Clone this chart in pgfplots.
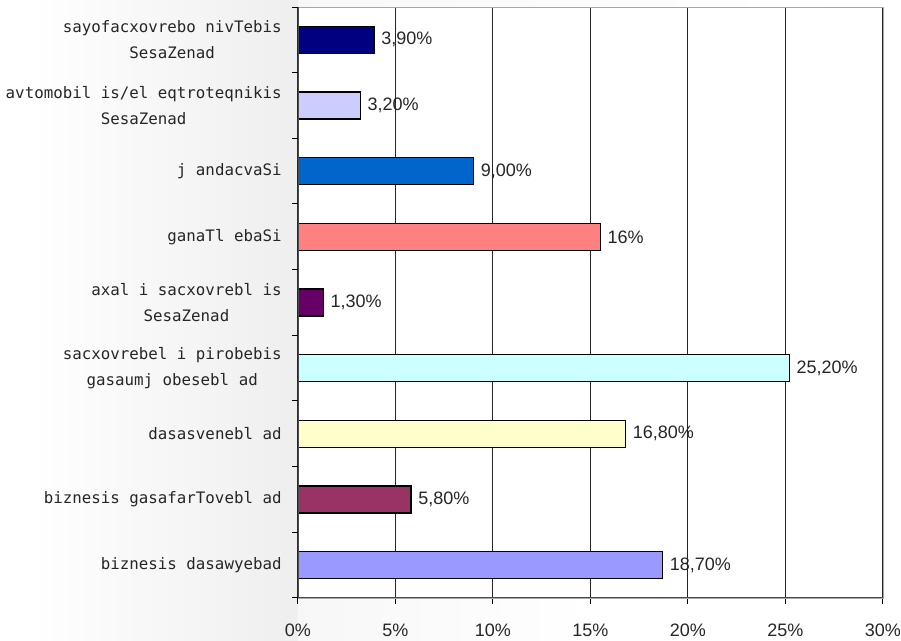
\documentclass[border=0pt]{standalone}
\usepackage{fontspec}
\setmainfont{Liberation Sans}
\newfontfamily\labfont{DejaVu Sans Mono}
\usepackage{pgfplots}
\pgfplotsset{compat=1.18}
\definecolor{cA}{HTML}{000080}
\definecolor{cB}{HTML}{CCCCFF}
\definecolor{cC}{HTML}{0066CC}
\definecolor{cD}{HTML}{FF8080}
\definecolor{cE}{HTML}{660066}
\definecolor{cF}{HTML}{CCFFFF}
\definecolor{cG}{HTML}{FFFFCC}
\definecolor{cH}{HTML}{993366}
\definecolor{cI}{HTML}{9999FF}
\begin{document}
\begin{tikzpicture}
\useasboundingbox (-149pt,-21.5pt) rectangle (301.5pt,299pt);
\shade[left color=white, right color=gray!13] (-135pt,-21.5pt) rectangle (0pt,299pt);
\fill[white] (-149pt,-21.5pt) rectangle (-135pt,299pt);
\shade[left color=gray!6, right color=white] (0pt,292.5pt) rectangle (280pt,299pt);
\shade[left color=gray!6, right color=white] (0pt,-21.5pt) rectangle (150pt,0pt);
\begin{axis}[
  at={(0,0)}, anchor=south west,
  scale only axis, width=292.5pt, height=295.5pt,
  axis background/.style={fill=white},
  xmin=0, xmax=30, ymin=0, ymax=9,
  axis line style={gray!70},
  xtick={0,5,...,30},
  xtick pos=bottom, ytick pos=left,
  xticklabels={0\%,5\%,10\%,15\%,20\%,25\%,30\%},
  xticklabel style={font=\fontsize{9}{10}\selectfont, yshift=-6.5pt, text=black!85},
  xmajorgrids,
  major grid style={black!85, line width=0.5pt},
  ytick={0,1,...,9},
  yticklabels={{biznesis dasawyebad},{biznesis gasafarTovebl ad},{dasasvenebl ad},{sacxovrebel i pirobebis\\gasaumj obesebl ad},{axal i sacxovrebl is\\SesaZenad},{ganaTl ebaSi},{j andacvaSi},{avtomobil is/el eqtroteqnikis\\SesaZenad},{sayofacxovrebo nivTebis\\SesaZenad},{}},
  yticklabel style={font=\labfont\fontsize{7.9}{12.8}\selectfont, align=center, inner sep=0pt, anchor=east, xshift=-5pt, yshift=16.42pt, text=black!85},
  tick align=outside,
  major tick length=3pt,
  tick style={black, line width=0.5pt},
  xbar,
  bar width=13.5pt,
  point meta=explicit symbolic,
  nodes near coords,
  nodes near coords style={font=\fontsize{9}{10}\selectfont, anchor=west, text=black!85},
]
\addplot[fill=cI, draw=black, line width=0.6pt, bar shift=0pt] coordinates {(18.7,0.5) [18,70\%]};
\addplot[fill=cH, draw=black, line width=0.6pt, bar shift=0pt] coordinates {(5.8,1.5) [5,80\%]};
\addplot[fill=cG, draw=black, line width=0.6pt, bar shift=0pt] coordinates {(16.8,2.5) [16,80\%]};
\addplot[fill=cF, draw=black, line width=0.6pt, bar shift=0pt] coordinates {(25.2,3.5) [25,20\%]};
\addplot[fill=cE, draw=black, line width=0.6pt, bar shift=0pt] coordinates {(1.3,4.5) [1,30\%]};
\addplot[fill=cD, draw=black, line width=0.6pt, bar shift=0pt] coordinates {(15.5,5.5) [16\%]};
\addplot[fill=cC, draw=black, line width=0.6pt, bar shift=0pt] coordinates {(9.0,6.5) [9,00\%]};
\addplot[fill=cB, draw=black, line width=0.6pt, bar shift=0pt] coordinates {(3.2,7.5) [3,20\%]};
\addplot[fill=cA, draw=black, line width=0.6pt, bar shift=0pt] coordinates {(3.9,8.5) [3,90\%]};
\draw[black!70, line width=0.9pt] (rel axis cs:0,1) -- (rel axis cs:0,0) -- (rel axis cs:1,0);
\end{axis}
\end{tikzpicture}
\end{document}
